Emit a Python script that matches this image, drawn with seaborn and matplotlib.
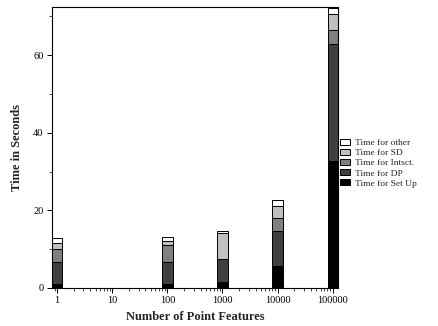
import numpy as np
import pandas as pd
import seaborn as sns
import matplotlib
matplotlib.use("Agg")
import matplotlib.pyplot as plt
from matplotlib.patches import Patch
from matplotlib.ticker import MultipleLocator, FixedLocator, FixedFormatter

# number of point features (log x axis) and timing breakdown in seconds
features = [1, 100, 1000, 10000, 100000]
setup = [1.0, 1.0, 1.5, 5.7, 32.8]
dp = [5.6, 5.8, 6.1, 9.1, 30.2]
intsct = [3.4, 4.3, 0.0, 3.2, 3.6]
sd = [1.5, 1.1, 6.6, 3.2, 4.0]
other = [1.5, 1.0, 0.4, 1.5, 1.5]

labels = ["Time for Set Up", "Time for DP", "Time for Intsct.", "Time for SD", "Time for other"]
colors = ["#000000", "#404040", "#808080", "#c0c0c0", "#ffffff"]
x_ticks = [1, 10, 100, 1000, 10000, 100000]
x_ticklabels = ["1", "10", "100", "1000", "10000", "100000"]

# long format table for histplot
rows = []
for lab, vals in zip(labels, [setup, dp, intsct, sd, other]):
    for f, v in zip(features, vals):
        rows.append({"features": f, "component": lab, "seconds": v})
df = pd.DataFrame(rows)

sns.set_style("ticks")
plt.rcParams["font.family"] = ["Liberation Serif", "DejaVu Serif"]

fig = plt.figure(figsize=(4.39, 3.26), dpi=100)
ax = fig.add_axes([0.118, 0.1166, 0.652, 0.8604])

# narrow bins (log10 space) around each decade, empty bins in between
half = 0.095
bin_edges = []
for c in range(6):
    bin_edges += [c - half, c + half]

# seaborn stacks the first hue level on top, so reverse the order
sns.histplot(data=df, x="features", weights="seconds", hue="component",
             hue_order=labels[::-1], palette=dict(zip(labels, colors)),
             multiple="stack", log_scale=True, bins=bin_edges,
             element="bars", fill=True, alpha=1,
             edgecolor="black", linewidth=0.7, legend=False, ax=ax)

ax.set_xlim(10 ** -half, 10 ** (5 + half))
ax.set_ylim(0, 72.3)
ax.xaxis.set_major_locator(FixedLocator(x_ticks))
ax.xaxis.set_major_formatter(FixedFormatter(x_ticklabels))
ax.yaxis.set_major_locator(MultipleLocator(20))
ax.yaxis.set_minor_locator(MultipleLocator(10))
ax.tick_params(axis="both", which="major", direction="out", length=3.5, width=0.7,
               labelsize=7.5, colors="black", pad=2.5)
ax.tick_params(axis="both", which="minor", direction="out", length=2, width=0.6)
for s in ax.spines.values():
    s.set_visible(True)
    s.set_color("black")
    s.set_linewidth(0.8)

ax.set_xlabel("Number of Point Features", fontsize=9, fontweight="bold", labelpad=4)
ax.set_ylabel("Time in Seconds", fontsize=9, fontweight="bold", labelpad=7)

handles = [Patch(facecolor=c, edgecolor="black", linewidth=0.7, label=l)
           for l, c in zip(labels, colors)][::-1]
fig.legend(handles=handles, loc="upper left", bbox_to_anchor=(0.775, 0.575),
           frameon=False, fontsize=6.8, handlelength=1.0, handleheight=0.6,
           handletextpad=0.6, labelspacing=0.2, borderpad=0, borderaxespad=0)

fig.savefig("out.png", dpi=100)
